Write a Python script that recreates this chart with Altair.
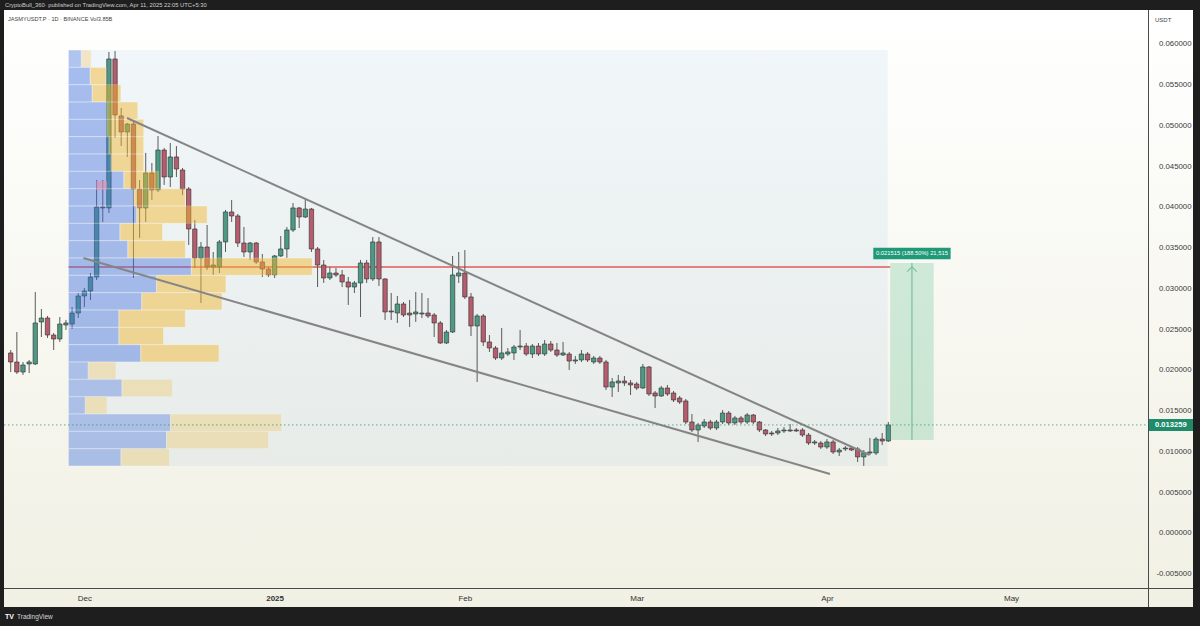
import altair as alt
import pandas as pd

# ---------------- data ----------------
FIRST_DATE = "2024-11-19"
AXIS_ORIGIN = "2024-12-01"   # day 0 of the horizontal scale

OPEN = [0.02209, 0.02098, 0.01975, 0.02074, 0.02074, 0.02589, 0.02638, 0.02429, 0.02380, 0.02552,
        0.02564, 0.02699, 0.02908, 0.02969, 0.03141, 0.04000, 0.03988, 0.05816, 0.05117, 0.04920,
        0.05018, 0.04221, 0.03988, 0.04417, 0.04209, 0.04699, 0.04368, 0.04614, 0.04454, 0.04221,
        0.03730, 0.03374, 0.03509, 0.03264, 0.03264, 0.03571, 0.03939, 0.03890, 0.03558, 0.03448,
        0.03558, 0.03325, 0.03239, 0.03166, 0.03399, 0.03485, 0.03718, 0.03988, 0.03877, 0.03975,
        0.03485, 0.03288, 0.03129, 0.03190, 0.03166, 0.03080, 0.03018, 0.03068, 0.03313, 0.03117,
        0.03571, 0.03117, 0.02724, 0.02699, 0.02810, 0.02699, 0.02687, 0.02687, 0.02699, 0.02675,
        0.02577, 0.02331, 0.02466, 0.03153, 0.03190, 0.02896, 0.02540, 0.02663, 0.02344, 0.02270,
        0.02147, 0.02196, 0.02209, 0.02282, 0.02294, 0.02196, 0.02294, 0.02196, 0.02319, 0.02245,
        0.02184, 0.02196, 0.02110, 0.02123, 0.02196, 0.02098, 0.02147, 0.02098, 0.01791, 0.01841,
        0.01865, 0.01841, 0.01828, 0.01779, 0.02037, 0.01718, 0.01681, 0.01779, 0.01718, 0.01656,
        0.01620, 0.01362, 0.01264, 0.01313, 0.01362, 0.01288, 0.01362, 0.01472, 0.01350, 0.01411,
        0.01362, 0.01448, 0.01362, 0.01264, 0.01227, 0.01227, 0.01252, 0.01252, 0.01264, 0.01264,
        0.01202, 0.01104, 0.01104, 0.01055, 0.01117, 0.00994, 0.01031, 0.01043, 0.01031, 0.00933,
        0.00982, 0.00982, 0.01153, 0.01129]
HIGH = [0.02245, 0.02466, 0.02098, 0.02123, 0.02957, 0.02748, 0.02663, 0.02454, 0.02650, 0.02614,
        0.02773, 0.02945, 0.03006, 0.03190, 0.04331, 0.04331, 0.05902, 0.05914, 0.05215, 0.05031,
        0.05043, 0.04331, 0.04663, 0.04540, 0.04871, 0.04724, 0.04785, 0.04748, 0.04479, 0.04245,
        0.03841, 0.03571, 0.03779, 0.03448, 0.03595, 0.03963, 0.04086, 0.03914, 0.03755, 0.03571,
        0.03571, 0.03423, 0.03264, 0.03411, 0.03644, 0.03755, 0.04049, 0.04000, 0.04110, 0.03988,
        0.03509, 0.03350, 0.03264, 0.03252, 0.03227, 0.03141, 0.03092, 0.03350, 0.03350, 0.03632,
        0.03632, 0.03125, 0.02945, 0.02908, 0.02834, 0.02859, 0.02957, 0.02945, 0.02883, 0.02699,
        0.02601, 0.02491, 0.03399, 0.03448, 0.03472, 0.02945, 0.02687, 0.02687, 0.02429, 0.02294,
        0.02515, 0.02270, 0.02307, 0.02491, 0.02331, 0.02319, 0.02331, 0.02368, 0.02356, 0.02331,
        0.02344, 0.02221, 0.02172, 0.02245, 0.02221, 0.02172, 0.02172, 0.02123, 0.01902, 0.01939,
        0.01926, 0.01877, 0.01853, 0.02074, 0.02049, 0.01742, 0.01804, 0.01816, 0.01742, 0.01681,
        0.01644, 0.01460, 0.01350, 0.01399, 0.01387, 0.01387, 0.01509, 0.01497, 0.01436, 0.01436,
        0.01472, 0.01460, 0.01374, 0.01276, 0.01252, 0.01288, 0.01301, 0.01337, 0.01288, 0.01288,
        0.01227, 0.01141, 0.01129, 0.01153, 0.01141, 0.01043, 0.01067, 0.01067, 0.01055, 0.01018,
        0.01166, 0.01178, 0.01227, 0.01362]
LOW = [0.01975, 0.01951, 0.01939, 0.01963, 0.02061, 0.02405, 0.02393, 0.02245, 0.02344, 0.02491,
       0.02503, 0.02638, 0.02773, 0.02859, 0.03104, 0.03816, 0.03926, 0.04847, 0.04748, 0.04614,
       0.03129, 0.03620, 0.03816, 0.04086, 0.04184, 0.04270, 0.04245, 0.04368, 0.04147, 0.03534,
       0.03252, 0.02822, 0.03227, 0.03166, 0.03190, 0.03448, 0.03816, 0.03509, 0.03387, 0.03350,
       0.03301, 0.03141, 0.03141, 0.03129, 0.03387, 0.03374, 0.03693, 0.03742, 0.03865, 0.03448,
       0.03018, 0.03068, 0.03104, 0.03141, 0.03018, 0.02798, 0.02945, 0.02650, 0.03068, 0.03092,
       0.03031, 0.02614, 0.02614, 0.02577, 0.02650, 0.02528, 0.02589, 0.02638, 0.02638, 0.02405,
       0.02320, 0.02320, 0.02454, 0.03068, 0.02871, 0.02417, 0.01853, 0.02294, 0.02221, 0.02123,
       0.02123, 0.02172, 0.02123, 0.02245, 0.02172, 0.02147, 0.02172, 0.02172, 0.02221, 0.02160,
       0.02172, 0.02000, 0.02074, 0.02098, 0.02098, 0.02074, 0.02074, 0.01755, 0.01669, 0.01730,
       0.01804, 0.01693, 0.01755, 0.01767, 0.01681, 0.01534, 0.01669, 0.01681, 0.01607, 0.01583,
       0.01337, 0.01239, 0.01117, 0.01288, 0.01264, 0.01264, 0.01337, 0.01325, 0.01325, 0.01337,
       0.01337, 0.01337, 0.01239, 0.01190, 0.01190, 0.01202, 0.01227, 0.01239, 0.01239, 0.01178,
       0.01080, 0.01080, 0.01031, 0.01031, 0.00969, 0.00945, 0.01006, 0.01006, 0.00871, 0.00822,
       0.00957, 0.00957, 0.01080, 0.01117]
CLOSE = [0.02098, 0.01975, 0.02061, 0.02098, 0.02577, 0.02638, 0.02429, 0.02380, 0.02564, 0.02577,
         0.02699, 0.02908, 0.02969, 0.03141, 0.04000, 0.03988, 0.05816, 0.05129, 0.04920, 0.05018,
         0.04221, 0.03988, 0.04417, 0.04209, 0.04699, 0.04368, 0.04614, 0.04466, 0.04221, 0.03730,
         0.03374, 0.03509, 0.03264, 0.03288, 0.03571, 0.03939, 0.03890, 0.03558, 0.03448, 0.03558,
         0.03325, 0.03239, 0.03166, 0.03399, 0.03485, 0.03718, 0.03988, 0.03877, 0.03975, 0.03485,
         0.03288, 0.03129, 0.03190, 0.03166, 0.03080, 0.03018, 0.03068, 0.03313, 0.03117, 0.03571,
         0.03117, 0.02712, 0.02712, 0.02810, 0.02675, 0.02675, 0.02712, 0.02699, 0.02663, 0.02577,
         0.02331, 0.02466, 0.03166, 0.03190, 0.02896, 0.02540, 0.02663, 0.02344, 0.02270, 0.02147,
         0.02209, 0.02221, 0.02282, 0.02294, 0.02196, 0.02294, 0.02196, 0.02319, 0.02245, 0.02184,
         0.02209, 0.02110, 0.02123, 0.02196, 0.02123, 0.02147, 0.02098, 0.01791, 0.01853, 0.01865,
         0.01841, 0.01816, 0.01779, 0.02037, 0.01706, 0.01681, 0.01779, 0.01706, 0.01632, 0.01607,
         0.01362, 0.01264, 0.01325, 0.01362, 0.01288, 0.01362, 0.01472, 0.01350, 0.01411, 0.01362,
         0.01448, 0.01362, 0.01264, 0.01215, 0.01215, 0.01252, 0.01264, 0.01264, 0.01252, 0.01202,
         0.01104, 0.01117, 0.01055, 0.01117, 0.00994, 0.01018, 0.01043, 0.01018, 0.00933, 0.00982,
         0.00994, 0.01153, 0.01129, 0.013259]

# visible-range volume profile (24 rows, top row first), relative volume
VP_UP = [13, 22, 24, 39, 39, 41, 43, 56, 66, 69, 52, 60, 124, 89, 74, 51, 51, 73, 20, 54, 17, 103, 99, 53]
VP_DOWN = [10, 16, 29, 31, 37, 35, 33, 35, 52, 71, 43, 58, 122, 70, 81, 67, 45, 79, 28, 51, 22, 112, 103, 49]
VP_VALUE_AREA = [0, 1, 1, 1, 1, 1, 1, 1, 1, 1, 1, 1, 1, 1, 1, 1, 1, 1, 0, 0, 0, 0, 0, 0]
VP_PRICE_RANGE = [0.00822, 0.05926]
VP_DAY_RANGE = [-2.6, 130.9]
VP_DAYS_PER_UNIT = 0.1615

PINK_DAYS = [1.94, 3.72]
PINK_PRICES = [0.04209, 0.04319]

UPPER_DAYS = [6.95, 127.95]
UPPER_PRICES = [0.05092, 0.00957]
LOWER_DAYS = [-0.16, 121.5]
LOWER_PRICES = [0.03374, 0.00724]

RESIST_PRICE = 0.03264
RESIST_DAYS = [-2.6, 131.3]

TARGET_DAYS = [131.3, 138.4]
TARGET_PRICES = [0.01141, 0.03313]
TARGET_LABEL = "0.021515 (188.50%) 21,515"

LAST_PRICE = 0.013259
LAST_LABEL = "0.013259"

TIME_TICKS = [0, 31, 62, 90, 121, 151]
TIME_LABELS = ["Dec", "2025", "Feb", "Mar", "Apr", "May"]
PRICE_TICKS = [-0.005, 0.0, 0.005, 0.01, 0.015, 0.02, 0.025, 0.03, 0.035, 0.04, 0.045, 0.05, 0.055, 0.06]

HEADER = "CryptoBull_360· published on TradingView.com, Apr 11, 2025 22:05 UTC+5:30"
SYMBOL = "JASMYUSDT.P · 1D · BINANCE  Vol3.85B"

# ---------------- styling ----------------
W, H = 1144, 578
FONT = "Liberation Sans"
GREEN = "#4c9a84"
RED = "#b55d6c"
VP_BLUE = "#3f6fe0"
VP_YELLOW = "#f2b830"

xs = alt.Scale(domain=[-12.28, 172.5], nice=False, zero=False)
ys = alt.Scale(domain=[-0.00675, 0.06417], nice=False, zero=False)

label_expr = " : ".join(
    f"datum.value == {t} ? '{l}'" for t, l in zip(TIME_TICKS, TIME_LABELS)
) + " : ''"

x_axis = alt.Axis(values=TIME_TICKS, labelExpr=label_expr, labelPadding=6, ticks=False,
                  domain=False, grid=False, title=None, labelFontSize=8, labelFont=FONT,
                  labelColor="#333333", zindex=2,
                  labelFontWeight={"condition": {"test": "datum.value == 31", "value": "bold"},
                                   "value": "normal"})
y_axis = alt.Axis(orient="right", values=PRICE_TICKS, format=".6f",
                  labelExpr="replace(datum.label, '\u2212', '-')",
                  labelAlign="right", labelPadding=43, ticks=False,
                  domain=False, grid=False, title=None, labelFontSize=7.8, labelFont=FONT,
                  labelColor="#3a3a3a", zindex=2)


def X(f):
    return alt.X(f, scale=xs, axis=x_axis, title=None)


def Y(f):
    return alt.Y(f, scale=ys, axis=y_axis, title=None)


dates = pd.date_range(FIRST_DATE, periods=len(OPEN), freq="D")
cdf = pd.DataFrame({
    "day": (dates - pd.Timestamp(AXIS_ORIGIN)).days,
    "open": OPEN, "high": HIGH, "low": LOW, "close": CLOSE,
})
cdf["col"] = [GREEN if c >= o else RED for o, c in zip(OPEN, CLOSE)]

one = pd.DataFrame({"k": [0]})

# panel background
panel = alt.Chart(one).mark_rect(
    fill=alt.LinearGradient(gradient="linear",
                            stops=[alt.GradientStop(color="#ffffff", offset=0),
                                   alt.GradientStop(color="#f1f0e4", offset=1)],
                            x1=0, x2=0, y1=0, y2=1)
).encode(x=alt.value(0), x2=alt.value(1189), y=alt.value(0), y2=alt.value(597))

# volume profile range background
vp_bg = alt.Chart(pd.DataFrame({"d0": [VP_DAY_RANGE[0]], "d1": [VP_DAY_RANGE[1]],
                                "p0": [VP_PRICE_RANGE[0]], "p1": [VP_PRICE_RANGE[1]]})).mark_rect(
    color="#5b9bd5", opacity=0.08
).encode(x=X("d0:Q"), x2="d1:Q", y=Y("p0:Q"), y2="p1:Q")

# red resistance line
resist = alt.Chart(pd.DataFrame({"d0": [RESIST_DAYS[0]], "d1": [RESIST_DAYS[1]],
                                 "p": [RESIST_PRICE]})).mark_rule(
    color="#e05a5a", strokeWidth=1.5
).encode(x=X("d0:Q"), x2="d1:Q", y=Y("p:Q"))

# candles
wicks = alt.Chart(cdf).mark_rule(color="#5a5a5a", strokeWidth=1).encode(
    x=X("day:Q"), y=Y("low:Q"), y2="high:Q",
)
bodies = alt.Chart(cdf).mark_bar(size=4.4, stroke="#2e2e2e", strokeWidth=0.6).encode(
    x=X("day:Q"), y=Y("open:Q"), y2="close:Q",
    color=alt.Color("col:N", scale=None),
)

# volume profile rows
n = len(VP_UP)
step = (VP_PRICE_RANGE[1] - VP_PRICE_RANGE[0]) / n
rows = []
for i in range(n):
    hi = VP_PRICE_RANGE[1] - i * step
    lo = hi - step
    up_end = VP_DAY_RANGE[0] + VP_UP[i] * VP_DAYS_PER_UNIT
    dn_end = up_end + VP_DOWN[i] * VP_DAYS_PER_UNIT
    va = VP_VALUE_AREA[i]
    rows.append({"lo": lo, "hi": hi, "x0": VP_DAY_RANGE[0], "x1": up_end, "col": VP_BLUE,
                 "op": 0.42 if va else 0.36})
    rows.append({"lo": lo, "hi": hi, "x0": up_end, "x1": dn_end, "col": VP_YELLOW,
                 "op": 0.48 if va else 0.26})
vdf = pd.DataFrame(rows)
vp = alt.Chart(vdf).mark_rect(stroke="#ffffff", strokeWidth=0.7, strokeOpacity=0.7).encode(
    x=X("x0:Q"), x2="x1:Q", y=Y("lo:Q"), y2="hi:Q",
    color=alt.Color("col:N", scale=None),
    opacity=alt.Opacity("op:Q", scale=None),
)

pink = alt.Chart(pd.DataFrame({"d0": [PINK_DAYS[0]], "d1": [PINK_DAYS[1]],
                               "p0": [PINK_PRICES[0]], "p1": [PINK_PRICES[1]]})).mark_rect(
    color="#e58fb0", opacity=0.6
).encode(x=X("d0:Q"), x2="d1:Q", y=Y("p0:Q"), y2="p1:Q")

# wedge trend lines
tl = pd.DataFrame({
    "d0": [UPPER_DAYS[0], LOWER_DAYS[0]], "d1": [UPPER_DAYS[1], LOWER_DAYS[1]],
    "p0": [UPPER_PRICES[0], LOWER_PRICES[0]], "p1": [UPPER_PRICES[1], LOWER_PRICES[1]],
})
trend = alt.Chart(tl).mark_rule(color="#858585", strokeWidth=2).encode(
    x=X("d0:Q"), x2="d1:Q", y=Y("p0:Q"), y2="p1:Q",
)

# last price dotted line
lastline = alt.Chart(pd.DataFrame({"p": [LAST_PRICE]})).mark_rule(
    color="#3a9a6e", strokeWidth=1, strokeDash=[1.5, 2.5], opacity=0.8
).encode(y=Y("p:Q"), x=alt.value(0), x2=alt.value(W))

# target box
tdf = pd.DataFrame({"d0": [TARGET_DAYS[0]], "d1": [TARGET_DAYS[1]],
                    "p0": [TARGET_PRICES[0]], "p1": [TARGET_PRICES[1]], "lab": [TARGET_LABEL]})
tdf["mid"] = (tdf["d0"] + tdf["d1"]) / 2
tdf["l0"] = tdf["mid"] - 6.3
tdf["l1"] = tdf["mid"] + 6.3
tbox = alt.Chart(tdf).mark_rect(color="#3bb07a", opacity=0.22).encode(
    x=X("d0:Q"), x2="d1:Q", y=Y("p0:Q"), y2="p1:Q")
tarrow = alt.Chart(tdf).mark_rule(color="#7cc49a", strokeWidth=1.3).encode(
    x=X("mid:Q"), y=Y("p0:Q"), y2="p1:Q")
tchev = alt.Chart(tdf).mark_point(shape="M-1,0.55L0,-0.45L1,0.55", filled=False, color="#7cc49a",
                                  strokeWidth=1.3, size=90, yOffset=6, opacity=1).encode(
    x=X("mid:Q"), y=Y("p1:Q"))
tlabbg = alt.Chart(tdf).mark_rule(color="#1f9a78", strokeWidth=11.5, strokeCap="butt", yOffset=-9.5).encode(
    x=X("l0:Q"), x2="l1:Q", y=Y("p1:Q"))
tlab = alt.Chart(tdf).mark_text(color="#ffffff", fontSize=5.8, font=FONT, yOffset=-9.5,
                                baseline="middle", align="center").encode(
    x=X("mid:Q"), y=Y("p1:Q"), text="lab:N")

# separators
vsep = alt.Chart(one).mark_rule(color="#4a4a4a", strokeWidth=1).encode(
    x=alt.value(W + 0.5), y=alt.value(0), y2=alt.value(597))
hsep = alt.Chart(one).mark_rule(color="#4a4a4a", strokeWidth=1).encode(
    y=alt.value(H + 0.5), x=alt.value(0), x2=alt.value(1189))

# last price tag on the axis
ldf = pd.DataFrame({"p": [LAST_PRICE], "t": [LAST_LABEL]})
tagbg = alt.Chart(ldf).mark_rule(color="#1e8c6a", strokeWidth=12, strokeCap="butt").encode(
    y=Y("p:Q"), x=alt.value(W + 1), x2=alt.value(W + 45))
tagtx = alt.Chart(ldf).mark_text(color="#ffffff", fontSize=7.6, font=FONT, fontWeight="bold",
                                 align="left", baseline="middle").encode(
    y=Y("p:Q"), x=alt.value(W + 7), text="t:N")

# header / footer texts
texts = pd.DataFrame({
    "t": [HEADER, SYMBOL, "USDT", "TradingView"],
    "x": [1, 4, 1151, 13],
    "y": [-5, 9, 10, 607],
    "c": ["#cfcfcf", "#444444", "#444444", "#d8d8d8"],
    "s": [5.8, 5.6, 6, 6.5],
})


def txt(i):
    r = texts.iloc[i]
    return alt.Chart(one).mark_text(text=r.t, color=r.c, fontSize=float(r.s), font=FONT,
                                    align="left", baseline="middle").encode(
        x=alt.value(float(r.x)), y=alt.value(float(r.y)))


logo = alt.Chart(one).mark_text(text="TV", color="#ffffff", fontSize=7, font=FONT,
                                fontWeight="bold", align="left", baseline="middle").encode(
    x=alt.value(1), y=alt.value(607))

chart = alt.layer(
    panel, vp_bg, resist, wicks, bodies, vp, pink, trend, lastline,
    tbox, tarrow, tchev, tlabbg, tlab, vsep, hsep, tagbg, tagtx,
    txt(0), txt(1), txt(2), txt(3), logo,
).properties(
    width=W, height=H,
    autosize=alt.AutoSizeParams(type="none"),
    padding={"left": 4, "top": 10, "right": 52, "bottom": 38},
).configure(background="#1e1e1e").configure_view(stroke=None)

chart.save("out.html", embed_options={"renderer": "svg", "actions": False})
